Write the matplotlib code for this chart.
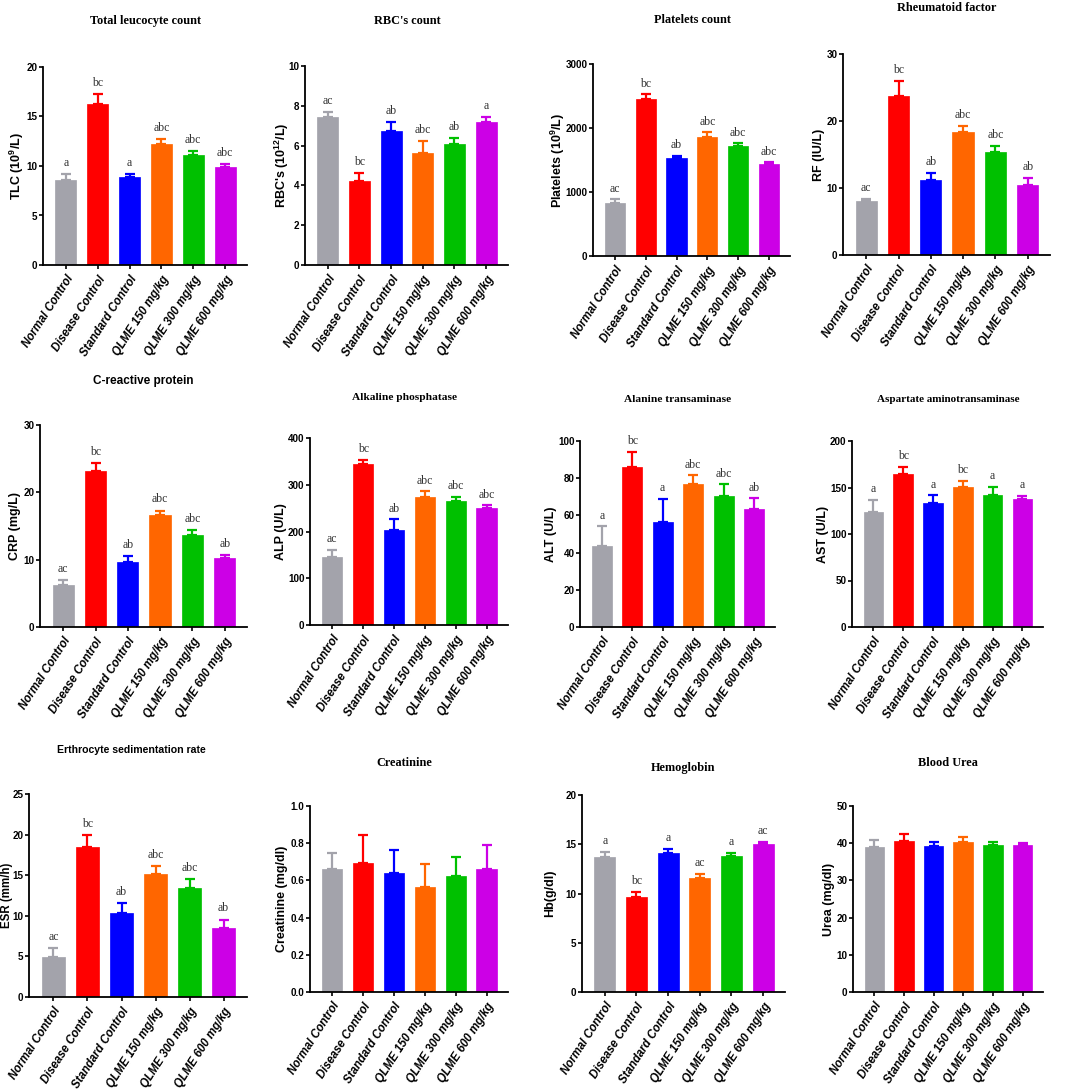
import matplotlib
matplotlib.use("Agg")
import matplotlib.pyplot as plt
import numpy as np

plt.rcParams['mathtext.fontset'] = 'custom'
plt.rcParams['mathtext.rm'] = 'Liberation Sans:bold'
plt.rcParams['mathtext.it'] = 'Liberation Sans:bold'
plt.rcParams['mathtext.bf'] = 'Liberation Sans:bold'
plt.rcParams['mathtext.default'] = 'rm'

groups = ["Normal Control", "Disease Control", "Standard Control",
          "QLME 150 mg/kg", "QLME 300 mg/kg", "QLME 600 mg/kg"]
colors = ["#a3a3ab", "#ff0000", "#0000ff", "#ff6600", "#00c000", "#cc00e6"]

# ---- data (mean, SEM-up, letters) ----
tlc_mean = [8.6, 16.3, 8.9, 12.2, 11.1, 9.85]
tlc_err = [0.6, 0.95, 0.25, 0.5, 0.4, 0.35]
tlc_let = ["a", "bc", "a", "abc", "abc", "abc"]

rbc_mean = [7.42, 4.24, 6.73, 5.61, 6.06, 7.17]
rbc_err = [0.28, 0.4, 0.47, 0.62, 0.34, 0.28]
rbc_let = ["ac", "bc", "ab", "abc", "ab", "a"]

plt_mean = [823, 2453, 1531, 1859, 1719, 1437]
plt_err = [62, 73, 31, 73, 41, 26]
plt_let = ["ac", "bc", "ab", "abc", "abc", "abc"]

rf_mean = [8.1, 23.8, 11.2, 18.4, 15.4, 10.5]
rf_err = [0.3, 2.1, 1.0, 0.9, 0.9, 1.0]
rf_let = ["ac", "bc", "ab", "abc", "abc", "ab"]

crp_mean = [6.3, 23.1, 9.64, 16.56, 13.6, 10.23]
crp_err = [0.7, 1.3, 0.96, 0.74, 0.8, 0.5]
crp_let = ["ac", "bc", "ab", "abc", "abc", "ab"]

alp_mean = [145, 344, 204, 274, 266, 251]
alp_err = [16, 10, 22, 12, 8, 5]
alp_let = ["ac", "bc", "ab", "abc", "abc", "abc"]

alt_mean = [43.4, 86.0, 56.6, 77.0, 70.6, 63.4]
alt_err = [10.8, 8.3, 12.3, 4.5, 6.2, 5.7]
alt_let = ["a", "bc", "a", "abc", "abc", "ab"]

ast_mean = [123.7, 164.0, 133.3, 150.9, 142.3, 137.6]
ast_err = [12.9, 8.4, 8.3, 6.4, 8.2, 3.3]
ast_let = ["a", "bc", "a", "bc", "a", "a"]

esr_mean = [4.93, 18.46, 10.3, 15.17, 13.45, 8.51]
esr_err = [1.07, 1.48, 1.25, 0.91, 1.11, 1.03]
esr_let = ["ac", "bc", "ab", "abc", "abc", "ab"]

cre_mean = [0.66, 0.694, 0.642, 0.562, 0.626, 0.66]
cre_err = [0.09, 0.149, 0.12, 0.127, 0.102, 0.13]
cre_let = ["", "", "", "", "", ""]

hb_mean = [13.7, 9.63, 14.14, 11.56, 13.76, 15.02]
hb_err = [0.5, 0.51, 0.36, 0.41, 0.31, 0.23]
hb_let = ["a", "bc", "a", "ac", "a", "ac"]

urea_mean = [38.9, 40.7, 39.3, 40.3, 39.4, 39.4]
urea_err = [1.9, 1.7, 0.95, 1.3, 0.9, 0.7]
urea_let = ["", "", "", "", "", ""]

panels = [
    # title, ylabel, mean, err, letters, yticks, box(px: l,t,r,b), title pos(px), title style, title size, ylabel offset(px), ylabel size
    ("Total leucocyte count", r"TLC (10$^{9}$/L)", tlc_mean, tlc_err, tlc_let, [0, 5, 10, 15, 20], (43, 67, 247, 265), (146, 21), "serif", 8.8, 26, 9),
    ("RBC's count", r"RBC's (10$^{12}$/L)", rbc_mean, rbc_err, rbc_let, [0, 2, 4, 6, 8, 10], (305, 66, 508, 265), (407, 21), "serif", 8.8, 23, 9),
    ("Platelets count", r"Platelets (10$^{9}$/L)", plt_mean, plt_err, plt_let, [0, 1000, 2000, 3000], (593, 64, 790, 256), (692, 20), "serif", 8.8, 35, 9),
    ("Rheumatoid factor", "RF (IU/L)", rf_mean, rf_err, rf_let, [0, 10, 20, 30], (843, 54, 1050, 255), (947, 8), "serif", 8.8, 24, 9),
    ("C-reactive protein", "CRP (mg/L)", crp_mean, crp_err, crp_let, [0, 10, 20, 30], (40, 425, 247, 627), (143, 381), "sans", 8.5, 25, 9),
    ("Alkaline phosphatase", "ALP (U/L)", alp_mean, alp_err, alp_let, [0, 100, 200, 300, 400], (310, 438, 508, 625), (404, 397), "serif", 8.2, 29, 9),
    ("Alanine transaminase", "ALT (U/L)", alt_mean, alt_err, alt_let, [0, 20, 40, 60, 80, 100], (580, 441, 775, 627), (678, 400), "serif", 8.2, 29, 9),
    ("Aspartate aminotransaminase", "AST (U/L)", ast_mean, ast_err, ast_let, [0, 50, 100, 150, 200], (852, 441, 1043, 627), (948, 400), "serif", 8.0, 29, 9),
    ("Erthrocyte sedimentation rate", "ESR (mm/h)", esr_mean, esr_err, esr_let, [0, 5, 10, 15, 20, 25], (29, 794, 247, 997), (131, 750), "sans", 7.6, 22, 8.3),
    ("Creatinine", "Creatinine (mg/dl)", cre_mean, cre_err, cre_let, [0.0, 0.2, 0.4, 0.6, 0.8, 1.0], (310, 806, 508, 992), (404, 763), "serif", 8.8, 28, 9),
    ("Hemoglobin", "Hb(g/dl)", hb_mean, hb_err, hb_let, [0, 5, 10, 15, 20], (582, 795, 785, 992), (683, 768), "serif", 8.8, 32, 9),
    ("Blood Urea", "Urea (mg/dl)", urea_mean, urea_err, urea_let, [0, 10, 20, 30, 40, 50], (853, 806, 1043, 992), (948, 763), "serif", 8.8, 24, 9),
]

W, H = 1065, 1090
fig = plt.figure(figsize=(W / 100, H / 100), dpi=100)
fig.patch.set_facecolor("white")

x = np.arange(len(groups))
for title, ylabel, mean, err, lets, yticks, box, tpos, tstyle, tsize, yoff, ysize in panels:
    l, t, r, b = box
    ax = fig.add_axes([l / W, 1 - b / H, (r - l) / W, (b - t) / H])
    for xi, m, e, c in zip(x, mean, err, colors):
        ax.errorbar([xi], [m], yerr=[[0], [e]], fmt="none",
                    ecolor=c, elinewidth=1.6, capsize=3.8, capthick=1.6, zorder=1)
    ax.bar(x, mean, width=0.66, color=colors, edgecolor=colors, linewidth=0.5, zorder=2)
    ymax = yticks[-1]
    for xi, m, e, lt in zip(x, mean, err, lets):
        if lt:
            ax.text(xi, m + e + 0.025 * ymax, lt, ha="center", va="bottom",
                    family="Liberation Serif", fontsize=8.5, color="#333333")
    ax.set_xlim(-0.72, 5.69)
    ax.set_ylim(0, ymax)
    ax.set_yticks(yticks)
    if isinstance(yticks[1], float):
        ax.set_yticklabels([f"{v:.1f}" for v in yticks])
    else:
        ax.set_yticklabels([str(v) for v in yticks])
    for lab in ax.get_yticklabels():
        lab.set_family("Liberation Sans")
        lab.set_fontweight("bold")
        lab.set_fontsize(7.1)
    ax.set_xticks(x)
    ax.set_xticklabels(groups, rotation=57, ha="right", rotation_mode="anchor",
                       family="Liberation Sans", fontweight="bold", style="italic", fontsize=8.3)
    ax.set_ylabel(ylabel, family="Liberation Sans", fontweight="bold", fontsize=ysize, va="center")
    ax.yaxis.set_label_coords(-float(yoff) / (r - l), 0.5)
    for s in ["top", "right"]:
        ax.spines[s].set_visible(False)
    for s in ["left", "bottom"]:
        ax.spines[s].set_linewidth(1.3)
    ax.tick_params(axis="both", width=1.2, length=3, pad=1.0)
    ax.tick_params(axis="x", pad=3)
    if tstyle == "serif":
        fig.text(tpos[0] / W, 1 - tpos[1] / H, title, ha="center", va="center",
                 family="Liberation Serif", fontweight="bold", fontsize=tsize)
    else:
        fig.text(tpos[0] / W, 1 - tpos[1] / H, title, ha="center", va="center",
                 family="Liberation Sans", fontweight="bold", fontsize=tsize)

fig.savefig("out.png", dpi=100, facecolor="white")
